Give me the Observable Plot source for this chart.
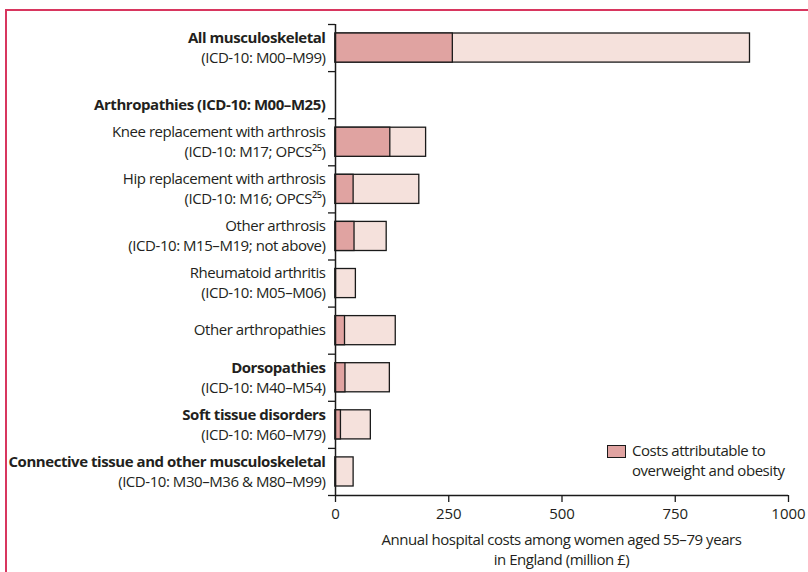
<!DOCTYPE html>
<html>
<head>
<meta charset="utf-8">
<script src="https://cdn.jsdelivr.net/npm/d3@7"></script>
<script src="https://cdn.jsdelivr.net/npm/@observablehq/plot@0.6"></script>
<style>
  html, body { margin: 0; padding: 0; background: #fff; }
  body { width: 808px; height: 572px; position: relative; overflow: hidden; font-family: "Open Sans", sans-serif; color: #231f20; }
  #frame { position: absolute; left: 5px; top: 9px; width: 820px; height: 600px; border-top: 2px solid #d8365f; border-left: 2px solid #d8365f; }
  #chart { position: absolute; left: 0; top: 0; }
  #chart svg g[aria-label="text"] text { letter-spacing: -0.45px; }
  #legend { position: absolute; left: 607px; top: 444px; font-size: 15px; line-height: 20px; letter-spacing: -0.45px; }
  #legend .sw { position: absolute; left: 0; top: 1px; width: 17px; height: 11px; border: 1px solid #1a1a1a; }
  #legend .tx { position: absolute; left: 25px; top: -4px; white-space: nowrap; }
  #xtitle { position: absolute; left: 335px; width: 453px; top: 529px; text-align: center; font-size: 15px; line-height: 20px; letter-spacing: -0.45px; }
</style>
</head>
<body>
<div id="frame"></div>
<div id="chart"></div>
<div id="legend"><div class="sw"></div><div class="tx">Costs attributable to<br>overweight and obesity</div></div>
<div id="xtitle">Annual hospital costs among women aged 55–79 years<br>in England (million £)</div>
<script>
// ---- data ----
const categories = [
  "All musculoskeletal",
  "Arthropathies",
  "Knee replacement with arthrosis",
  "Hip replacement with arthrosis",
  "Other arthrosis",
  "Rheumatoid arthritis",
  "Other arthropathies",
  "Dorsopathies",
  "Soft tissue disorders",
  "Connective tissue and other musculoskeletal"
];
const labelLine1 = [
  "All musculoskeletal",
  "",
  "Knee replacement with arthrosis",
  "Hip replacement with arthrosis",
  "Other arthrosis",
  "Rheumatoid arthritis",
  "Other arthropathies",
  "Dorsopathies",
  "Soft tissue disorders",
  "Connective tissue and other musculoskeletal"
];
const labelLine2 = [
  "(ICD-10: M00–M99)",
  "Arthropathies (ICD-10: M00–M25)",
  "(ICD-10: M17; OPCS²⁵)",
  "(ICD-10: M16; OPCS²⁵)",
  "(ICD-10: M15–M19; not above)",
  "(ICD-10: M05–M06)",
  "",
  "(ICD-10: M40–M54)",
  "(ICD-10: M60–M79)",
  "(ICD-10: M30–M36 & M80–M99)"
];
const line1Bold = [true, false, false, false, false, false, false, true, true, true];
const line2Bold = [false, true, false, false, false, false, false, false, false, false];
const totalCost = [915, null, 200, 185, 113, 45, 133, 120, 78, 40];
const attributableCost = [259, null, 121, 40, 42, 1, 21, 22, 12, 1];
const xTicks = [0, 250, 500, 750, 1000];

// ---- build ----
const bars = categories.map((c, i) => ({cat: c, i, total: totalCost[i], attr: attributableCost[i]}))
  .filter(d => d.total != null);

const lines = [];
categories.forEach((c, i) => {
  const l1 = labelLine1[i], l2 = labelLine2[i];
  if (l1 && l2) {
    lines.push({i, text: l1, pos: -1, bold: line1Bold[i]});
    lines.push({i, text: l2, pos: 1, bold: line2Bold[i]});
  } else if (l1) {
    lines.push({i, text: l1, pos: 0, bold: line1Bold[i]});
  } else if (l2) {
    lines.push({i, text: l2, pos: 1, bold: line2Bold[i]});
  }
});

const light = "#f5e1dc", dark = "#e0a3a1", ink = "#1a1a1a";
const lineOffset = 10;
const textMark = (sel, pos, weight) => Plot.text(lines.filter(d => d.bold === sel && d.pos === pos), {
  y: d => d.i + 0.5,
  text: "text",
  frameAnchor: "left",
  textAnchor: "end",
  dx: -10,
  dy: pos * lineOffset,
  fontSize: 15,
  fontWeight: weight,
  fill: "#231f20"
});

const plot = Plot.plot({
  width: 808,
  height: 530,
  marginLeft: 335,
  marginRight: 20,
  marginTop: 24,
  marginBottom: 35,
  style: {fontFamily: "'Open Sans', sans-serif", fontSize: "15px", color: "#231f20", background: "transparent"},
  x: {domain: [0, 1000]},
  y: {domain: [0, categories.length], reverse: true},
  marks: [
    Plot.rectX(bars, {x1: 0, x2: "total", y1: "i", y2: d => d.i + 1, insetTop: 9, insetBottom: 9, fill: light, stroke: ink, strokeWidth: 1.3}),
    Plot.rectX(bars, {x1: 0, x2: "attr", y1: "i", y2: d => d.i + 1, insetTop: 9, insetBottom: 9, fill: dark, stroke: ink, strokeWidth: 1.3}),
    Plot.ruleX([0], {stroke: ink, strokeWidth: 1.5}),
    Plot.ruleY([categories.length], {stroke: ink, strokeWidth: 1.5}),
    Plot.axisY({ticks: d3.range(categories.length + 1), tickSize: 7, tickFormat: () => "", label: null, stroke: ink, strokeWidth: 1.3}),
    Plot.axisX({ticks: xTicks, tickSize: 7, tickPadding: 6, tickFormat: d3.format("d"), label: null, fontSize: 15, stroke: ink, strokeWidth: 1.3}),
    ...[-1, 0, 1].flatMap(p => [textMark(true, p, "bold"), textMark(false, p, "normal")])
  ]
});
document.getElementById("chart").appendChild(plot);
document.querySelector("#legend .sw").style.background = dark;
</script>
</body>
</html>
